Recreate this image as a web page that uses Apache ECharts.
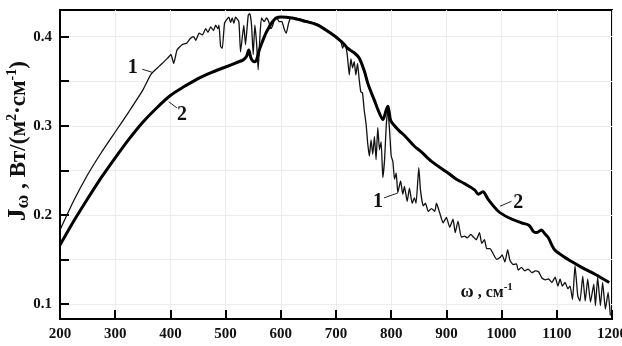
<!DOCTYPE html>
<html>
<head>
<meta charset="utf-8">
<script src="https://cdn.jsdelivr.net/npm/echarts@6/dist/echarts.min.js"></script>
<style>
  html, body { margin: 0; padding: 0; background: #fff; }
  #chart { width: 622px; height: 346px; }
</style>
</head>
<body>
<div id="chart"></div>
<script>
// Spectrum 1: measured (fine structure), wavenumber in cm^-1
const omega1 = [
  200, 225, 250, 275, 300, 325, 350, 365, 380, 395, 401, 406, 412, 421, 430, 436, 442, 446,
  452, 458, 464, 468, 473, 478, 482, 486, 488, 491, 494, 498, 503, 506, 509, 512, 515, 518,
  524, 527, 530, 533, 536, 541, 544, 547, 550, 553, 556, 559, 562, 565, 570, 574, 578, 582,
  586, 589, 592, 597, 602, 606, 610, 614, 618, 624, 640, 667, 697, 709, 712, 715, 718, 721,
  724, 727, 730, 733, 736, 739, 742, 745, 748, 751, 754.5, 757.5, 760.5, 763.5, 766.6, 769.6,
  772.6, 775.7, 778.8, 781.8, 784.8, 788, 791, 794, 797, 800, 803, 806, 809, 812, 817, 821,
  824, 829, 833, 838, 842, 845, 850, 853, 858, 862, 867, 873, 879, 882, 888, 894, 900, 906,
  912, 916, 921, 927, 933, 938, 944, 949, 954, 960, 964, 969, 973, 979, 985, 991, 997, 1001,
  1006, 1011, 1015, 1021, 1027, 1030, 1036, 1042, 1048, 1055, 1061, 1067, 1073, 1079, 1085,
  1091, 1097, 1102, 1106, 1110, 1115, 1120, 1124, 1128.5, 1133, 1138, 1142, 1147, 1151.5,
  1156, 1161, 1167, 1170, 1174, 1179, 1183, 1188, 1193, 1197
];
const J1 = [
  0.183, 0.216, 0.245, 0.270, 0.293, 0.316, 0.340, 0.358, 0.367, 0.376, 0.380, 0.370, 0.385, 0.391, 0.393, 0.398, 0.400, 0.396,
  0.404, 0.402, 0.409, 0.405, 0.411, 0.407, 0.413, 0.409, 0.413, 0.389, 0.387, 0.415, 0.420, 0.422, 0.416, 0.421, 0.415, 0.422,
  0.417, 0.383, 0.398, 0.413, 0.391, 0.424, 0.426, 0.413, 0.380, 0.413, 0.394, 0.363, 0.398, 0.421, 0.417, 0.421, 0.417, 0.409,
  0.414, 0.421, 0.422, 0.417, 0.417, 0.409, 0.404, 0.415, 0.421, 0.421, 0.419, 0.414, 0.401, 0.394, 0.387, 0.392, 0.389, 0.376,
  0.357, 0.375, 0.365, 0.372, 0.357, 0.370, 0.352, 0.338, 0.337, 0.318, 0.302, 0.280, 0.266, 0.284, 0.268, 0.288,
  0.262, 0.298, 0.273, 0.282, 0.242, 0.262, 0.300, 0.318, 0.295, 0.266, 0.260, 0.240, 0.247, 0.225, 0.238, 0.223,
  0.232, 0.215, 0.230, 0.213, 0.219, 0.213, 0.253, 0.228, 0.210, 0.213, 0.204, 0.207, 0.204, 0.213, 0.202, 0.191, 0.197, 0.186,
  0.195, 0.180, 0.193, 0.175, 0.176, 0.174, 0.178, 0.175, 0.172, 0.180, 0.168, 0.172, 0.162, 0.162, 0.156, 0.150, 0.152, 0.155,
  0.147, 0.161, 0.149, 0.144, 0.145, 0.138, 0.141, 0.137, 0.139, 0.135, 0.137, 0.136, 0.129, 0.127, 0.128,
  0.124, 0.130, 0.120, 0.128, 0.120, 0.124, 0.117, 0.120, 0.105, 0.143, 0.109, 0.103, 0.131, 0.103,
  0.128, 0.102, 0.122, 0.098, 0.130, 0.098, 0.124, 0.094, 0.113, 0.087
];

// Spectrum 2: calculated (smooth envelope)
const omega2 = [
  200, 225, 250, 275, 300, 325, 350, 375, 400, 425, 450, 475, 500, 520, 532, 538, 542, 546,
  552, 556, 561, 567, 573, 579, 585, 592, 600, 620, 640, 667, 697, 709, 714, 717, 721, 733,
  742, 751, 758, 764, 770, 776, 785, 791, 794, 799, 806, 815, 824, 842, 854, 873, 903, 918,
  933, 951, 958, 966, 976, 994, 1012, 1036, 1050, 1058, 1064, 1072, 1078, 1085, 1091, 1097,
  1120, 1145, 1170, 1195
];
const J2 = [
  0.166, 0.193, 0.218, 0.242, 0.264, 0.285, 0.304, 0.320, 0.334, 0.344, 0.353, 0.360, 0.366, 0.371, 0.374, 0.378, 0.385, 0.376,
  0.372, 0.374, 0.385, 0.395, 0.404, 0.411, 0.417, 0.421, 0.422, 0.421, 0.418, 0.413, 0.401, 0.395, 0.392, 0.390, 0.387, 0.382,
  0.376, 0.362, 0.347, 0.337, 0.328, 0.318, 0.307, 0.318, 0.322, 0.306, 0.300, 0.294, 0.289, 0.277, 0.271, 0.260, 0.247, 0.240,
  0.235, 0.228, 0.223, 0.226, 0.217, 0.204, 0.197, 0.191, 0.188, 0.181, 0.180, 0.183, 0.179, 0.174, 0.166, 0.160,
  0.150, 0.141, 0.133, 0.124
];

// Axis ticks
const xTickValues = [200, 300, 400, 500, 600, 700, 800, 900, 1000, 1100, 1200];
const yTickLabels = [0.1, 0.2, 0.3, 0.4];
const yTickMarks = [0.1, 0.15, 0.2, 0.25, 0.3, 0.35, 0.4];

// Curve callouts in data units: [text, labelPos, leaderStart, leaderEnd]
const callouts = [
  ['1', [332, 0.365], [349, 0.3635], [367, 0.360]],
  ['2', [421, 0.312], [397, 0.327], [412, 0.320]],
  ['1', [776, 0.215], [787, 0.219], [812, 0.2245]],
  ['2', [1030, 0.2138], [997, 0.2096], [1018, 0.2152]]
];
const xTitlePos = [973, 0.1127];

const FONT = '"Liberation Serif", "Times New Roman", serif';

const chart = echarts.init(document.getElementById('chart'), null, { renderer: 'canvas' });

chart.setOption({
  animation: false,
  backgroundColor: '#fff',
  grid: {
    left: 60, right: 10, top: 10, bottom: 27,
    outerBoundsMode: 'none', containLabel: false,
    show: true, borderColor: '#000', borderWidth: 2
  },
  xAxis: {
    type: 'value', min: 200, max: 1200, interval: 50,
    axisLine: { lineStyle: { color: '#000', width: 2 } },
    axisTick: { inside: true, length: 9, customValues: xTickValues, lineStyle: { color: '#000', width: 2 } },
    axisLabel: {
      customValues: xTickValues, color: '#111', fontFamily: FONT, fontWeight: 'bold', fontSize: 15, margin: 8,
      formatter: v => String(v)
    },
    splitLine: { show: true, lineStyle: { color: '#ececec', width: 1 } }
  },
  yAxis: {
    type: 'value', min: 0.083, max: 0.43, splitNumber: 7,
    axisLine: { lineStyle: { color: '#000', width: 2 } },
    axisTick: { inside: true, length: 9, customValues: yTickMarks, lineStyle: { color: '#000', width: 2 } },
    axisLabel: {
      customValues: yTickLabels, color: '#111', fontFamily: FONT, fontWeight: 'bold', fontSize: 15, margin: 8,
      formatter: v => v.toFixed(1)
    },
    splitLine: { show: true, lineStyle: { color: '#ececec', width: 1 } }
  },
  series: [
    {
      name: '1', type: 'line', showSymbol: false, smooth: 0.15,
      data: omega1.map((x, i) => [x, J1[i]]),
      lineStyle: { color: '#111', width: 1.3 }, z: 3
    },
    {
      name: '2', type: 'line', showSymbol: false, smooth: 0.3,
      data: omega2.map((x, i) => [x, J2[i]]),
      lineStyle: { color: '#000', width: 3 }, z: 4
    }
  ]
});

// Callout numbers with short leader lines, plus the axis titles
const toPx = p => chart.convertToPixel({ gridIndex: 0 }, p);
const graphics = [];
callouts.forEach(([txt, pos, a, b]) => {
  const p = toPx(pos), pa = toPx(a), pb = toPx(b);
  graphics.push({
    type: 'text', x: p[0], y: p[1], z: 10,
    style: {
      text: txt, fill: '#111', font: 'bold 20px ' + FONT,
      textAlign: 'center', textVerticalAlign: 'middle'
    }
  });
  graphics.push({
    type: 'line', z: 10,
    shape: { x1: pa[0], y1: pa[1], x2: pb[0], y2: pb[1] },
    style: { stroke: '#222', lineWidth: 1 }
  });
});
const tp = toPx(xTitlePos);
graphics.push({
  type: 'text', x: tp[0], y: tp[1], z: 10,
  style: {
    text: '{w|ω}{t| , см}{sup|-1}',
    textAlign: 'center', textVerticalAlign: 'middle',
    rich: {
      w: { fontFamily: FONT, fontWeight: 'bold', fontSize: 18, lineHeight: 22, verticalAlign: 'middle', fill: '#111' },
      t: { fontFamily: FONT, fontWeight: 'bold', fontSize: 16, lineHeight: 22, verticalAlign: 'middle', fill: '#111' },
      sup: { fontFamily: FONT, fontWeight: 'bold', fontSize: 11, lineHeight: 10, verticalAlign: 'top', fill: '#111' }
    }
  }
});
// Vertical title for the intensity axis
graphics.push({
  type: 'text', rotation: Math.PI / 2, z: 10,
  x: 19, y: 141,
  style: {
    text: '{j|J}{sub|ω}{t| , Вт/(м}{sup|2}{t|·см}{sup|-1}{t|)}',
    textAlign: 'center', textVerticalAlign: 'middle',
    rich: {
      j: { fontFamily: FONT, fontWeight: 'bold', fontSize: 25, lineHeight: 28, verticalAlign: 'middle', fill: '#111' },
      t: { fontFamily: FONT, fontWeight: 'bold', fontSize: 23, lineHeight: 28, verticalAlign: 'middle', fill: '#111' },
      sub: { fontFamily: FONT, fontWeight: 'bold', fontSize: 19, lineHeight: 17, verticalAlign: 'bottom', fill: '#111' },
      sup: { fontFamily: FONT, fontWeight: 'bold', fontSize: 14, lineHeight: 13, verticalAlign: 'top', fill: '#111' }
    }
  }
});
chart.setOption({ graphic: graphics });
</script>
</body>
</html>
